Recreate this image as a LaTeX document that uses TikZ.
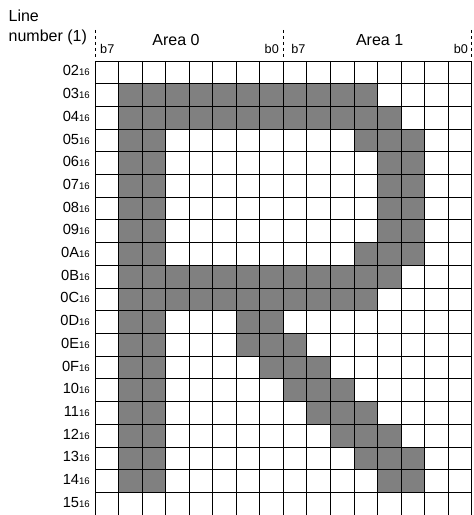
\documentclass[tikz,border=0pt]{standalone}
\usepackage{fontspec}
\setmainfont{Liberation Sans}
\newcommand{\hexsub}[1]{#1{\fontsize{7.2}{9}\selectfont 16}}
\begin{document}
\begin{tikzpicture}[x=17.655pt,y=-17.025pt,
		cell/.style={fill=black!50},
		gridline/.style={line width=0.6pt},
		rowlbl/.style={anchor=base east,inner sep=0pt,font=\fontsize{11}{13}\selectfont},
		bitlbl/.style={inner sep=0pt,font=\fontsize{9.5}{11}\selectfont},
		arealbl/.style={anchor=base,inner sep=0pt,font=\fontsize{12}{14}\selectfont},
		areatick/.style={line width=0.6pt,dash pattern=on 2.5pt off 2pt}]
	\useasboundingbox (-4.036,-2.687) rectangle (16.064,20);
	
	\fill[cell] (1,1) rectangle (3,19);
	\foreach \r/\a/\b in {1/3/12, 2/3/13, 3/11/14, 4/12/14, 5/12/14, 6/12/14, 7/12/14,
			8/11/14, 9/3/13, 10/3/12, 11/6/8, 12/6/9, 13/7/10, 14/8/11, 15/9/12,
			16/10/13, 17/11/14, 18/12/14}
		\fill[cell] (\a,\r) rectangle (\b,\r+1);
	
	\foreach \c in {0,...,16}
		\draw[gridline] (\c,0) -- (\c,20);
	\foreach \r in {0,...,19}
		\draw[gridline] (0,\r) -- (16,\r);
	
	\foreach \r/\lbl in {0/02,1/03,2/04,3/05,4/06,5/07,6/08,7/09,8/0A,9/0B,
			10/0C,11/0D,12/0E,13/0F,14/10,15/11,16/12,17/13,18/14,19/15}
		\node[rowlbl] (row\r) at (-0.21,\r+0.66) {\hexsub{\lbl}};
	
	\node[anchor=base west,inner sep=0pt,font=\fontsize{12}{14}\selectfont] (linelbl) at (-3.68,-1.73) {Line};
	\node[anchor=base west,inner sep=0pt,font=\fontsize{12}{14}\selectfont] (numlbl) at (-3.68,-0.85) {number (1)};
	
	\node[arealbl] (area0) at (3.44,-0.70) {Area 0};
	\node[arealbl] (area1) at (12.09,-0.70) {Area 1};
	
	\node[bitlbl,anchor=base west] (hibit0) at (0.21,-0.34) {b7};
	\node[bitlbl,anchor=base east] (lobit0) at (7.82,-0.34) {b0};
	\node[bitlbl,anchor=base west] (hibit1) at (8.33,-0.34) {b7};
	\node[bitlbl,anchor=base east] (lobit1) at (15.85,-0.34) {b0};
	
	\foreach \c in {0,8,16}
		\draw[areatick] (\c,-1.37) -- (\c,-0.13);
\end{tikzpicture}
\end{document}
